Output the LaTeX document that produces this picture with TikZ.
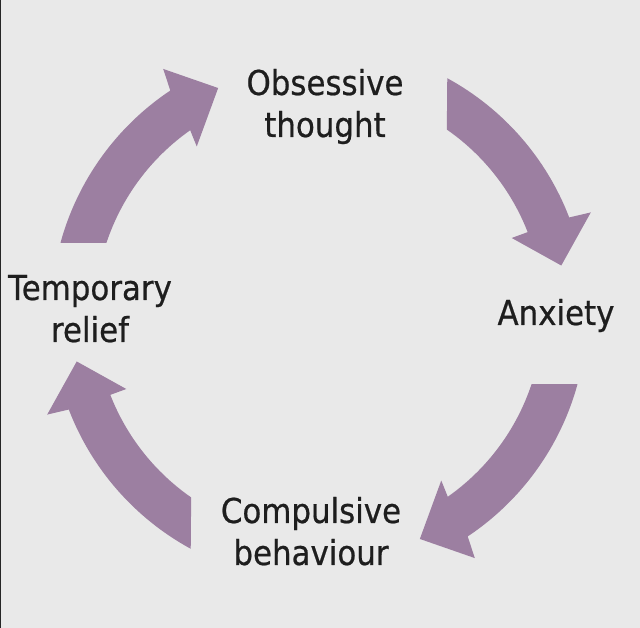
\documentclass[tikz,border=0pt]{standalone}
\usepackage{fontspec}
\setmainfont{DejaVu Sans}[FakeStretch=0.9,FakeBold=0.6]
\usetikzlibrary{calc}
\definecolor{bgcol}{HTML}{E9E9E9}
\definecolor{arrowcol}{HTML}{9C7FA1}
\definecolor{textcol}{HTML}{1E1E1E}
\newcommand\twolines[2]{\vtop{\baselineskip=42pt\halign{\hfil##\hfil\cr #1\cr #2\cr}}}
\newcommand\cycarrow[8]{%
  \fill[ringarrow] ($(C)+(#1+#2:268)$) arc[start angle=#1+#2, end angle=#1+#4, radius=268]
    -- ($(C)+(#1+#5:290)$) -- ($(C)+(#1+#6:247)$) -- ($(C)+(#1+#7:207)$)
    -- ($(C)+(#1+#8:224)$) arc[start angle=#1+#8, end angle=#1+#3, radius=224] -- cycle;}
\begin{document}
\begin{tikzpicture}[x=1pt,y=1pt,
  ringarrow/.style={fill=arrowcol},
  label/.style={anchor=base, inner sep=0pt, text=textcol, font=\fontsize{34.3}{42}\selectfont}]
\fill[bgcol] (0,0) rectangle (640,628);
\useasboundingbox (0,0) rectangle (640,628);
\fill[black!85] (0,0) rectangle (1.2,628);
\coordinate (C) at (319,314.5);
% arrows (clockwise cycle)
\cycarrow{0}{164.7}{161.6}{123.7}{122.5}{114.1}{126.2}{125.1}
\cycarrow{180}{164.7}{161.6}{123.7}{122.5}{114.1}{126.2}{125.1}
\cycarrow{0}{61.4}{55.2}{21.0}{20.4}{11.2}{21.4}{21.3}
\cycarrow{180}{61.4}{55.2}{21.0}{20.4}{11.2}{21.4}{21.3}
% labels
\node[label] (obs) at (325,533) {\twolines{Obsessive}{thought}};
\node[label] (anx) at (556,303) {Anxiety};
\node[label] (comp) at (311,105) {\twolines{Compulsive}{behaviour}};
\node[label] (temp) at (90,328) {\twolines{Temporary}{relief}};
\end{tikzpicture}
\end{document}
